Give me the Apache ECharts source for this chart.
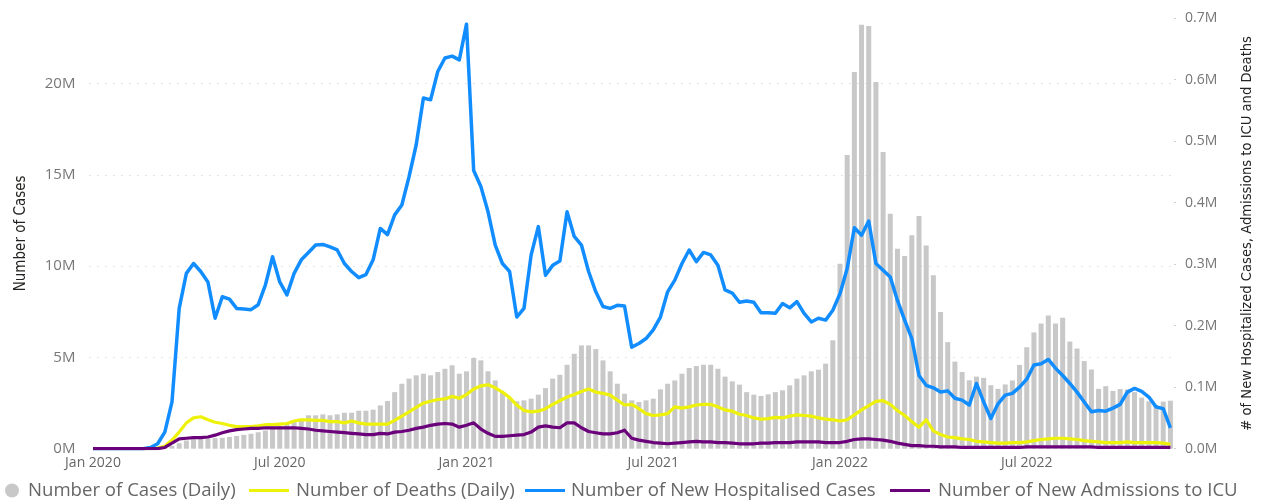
<!DOCTYPE html>
<html><head><meta charset="utf-8">
<script src="https://cdn.jsdelivr.net/npm/echarts@6/dist/echarts.min.js"></script>
<style>html,body{margin:0;padding:0;background:#fff}#c{width:1263px;height:500px}</style>
</head><body><div id="c"></div>
<script>
// weekly categories
const startDate = '2020-01-03';
const weekCount = 151;
const tickLabels = ['Jan 2020', 'Jul 2020', 'Jan 2021', 'Jul 2021', 'Jan 2022', 'Jul 2022'];
const seriesNames = ['Number of Cases (Daily)', 'Number of Deaths (Daily)', 'Number of New Hospitalised Cases', 'Number of New Admissions to ICU'];

// values in millions
const casesM = [
0,0,0,0.01,0.02,0.03,0.03,0.01,0.01,0.03,
0.06,0.15,0.3,0.45,0.52,0.55,0.56,0.58,0.6,0.64,
0.7,0.76,0.82,0.9,1.0,1.12,1.25,1.4,1.55,1.64,
1.83,1.83,1.88,1.83,1.88,1.97,1.97,2.08,2.08,2.14,
2.37,2.61,3.1,3.56,3.84,4.02,4.11,4.02,4.2,4.38,
4.57,4.11,4.24,4.97,4.84,4.24,3.74,3.1,2.74,2.6,
2.65,2.74,2.96,3.32,3.84,4.05,4.6,5.2,5.66,5.66,
5.46,4.84,4.24,3.56,3.01,2.65,2.56,2.65,2.74,3.25,
3.56,3.74,4.11,4.42,4.53,4.6,4.6,4.38,3.95,3.69,
3.51,3.1,2.96,2.89,2.98,3.1,3.2,3.47,3.84,4.02,
4.24,4.33,4.66,5.94,10.14,16.1,20.64,23.23,23.16,20.1,
16.26,12.88,10.96,10.56,11.69,12.75,11.14,9.5,7.49,5.84,
4.77,4.2,3.75,3.95,3.88,3.48,3.28,3.52,3.74,4.59,
5.56,6.37,6.86,7.3,6.86,7.18,5.87,5.49,4.8,4.34,
3.28,3.43,3.17,3.27,3.25,3.1,2.8,2.6,2.4,2.58,2.63];
const deathsM = [
0,0,0,0,0,0,0,0,0,0.001,
0.004,0.014,0.027,0.042,0.05,0.052,0.047,0.043,0.041,0.038,
0.036,0.036,0.036,0.037,0.039,0.039,0.04,0.041,0.045,0.047,
0.047,0.046,0.046,0.044,0.044,0.042,0.045,0.042,0.04,0.04,
0.04,0.04,0.046,0.053,0.06,0.067,0.074,0.077,0.08,0.081,
0.085,0.082,0.088,0.097,0.102,0.104,0.099,0.092,0.083,0.071,
0.062,0.06,0.061,0.065,0.072,0.078,0.084,0.088,0.093,0.097,
0.092,0.09,0.087,0.079,0.071,0.072,0.065,0.057,0.054,0.055,
0.057,0.068,0.066,0.068,0.071,0.072,0.072,0.068,0.063,0.061,
0.056,0.054,0.05,0.048,0.049,0.051,0.05,0.053,0.055,0.054,
0.053,0.05,0.048,0.047,0.045,0.047,0.055,0.063,0.07,0.077,
0.078,0.072,0.062,0.054,0.044,0.035,0.047,0.029,0.023,0.019,
0.018,0.016,0.015,0.012,0.011,0.01,0.009,0.009,0.01,0.01,
0.011,0.013,0.015,0.016,0.017,0.017,0.016,0.015,0.013,0.012,
0.011,0.01,0.01,0.01,0.011,0.01,0.01,0.01,0.01,0.009,0.007];
const hospM = [
0,0,0,0,0,0,0,0,0.002,0.008,
0.027,0.076,0.228,0.285,0.301,0.288,0.271,0.212,0.247,0.243,
0.228,0.227,0.226,0.234,0.266,0.312,0.271,0.25,0.285,0.307,
0.319,0.331,0.332,0.328,0.323,0.301,0.288,0.278,0.283,0.307,
0.358,0.348,0.38,0.396,0.442,0.494,0.57,0.567,0.613,0.635,
0.638,0.632,0.69,0.452,0.426,0.385,0.331,0.301,0.288,0.214,
0.228,0.315,0.361,0.282,0.298,0.305,0.385,0.345,0.331,0.288,
0.255,0.231,0.228,0.233,0.232,0.165,0.171,0.179,0.193,0.214,
0.255,0.274,0.301,0.323,0.304,0.319,0.315,0.298,0.258,0.253,
0.238,0.24,0.238,0.221,0.221,0.22,0.236,0.229,0.239,0.22,
0.206,0.212,0.209,0.225,0.252,0.293,0.359,0.347,0.37,0.301,
0.29,0.279,0.241,0.209,0.179,0.119,0.103,0.099,0.092,0.094,
0.082,0.079,0.071,0.106,0.076,0.049,0.073,0.087,0.09,0.1,
0.113,0.136,0.138,0.145,0.131,0.119,0.106,0.092,0.076,0.06,
0.062,0.061,0.066,0.072,0.092,0.098,0.093,0.084,0.068,0.065,0.034];
const icuM = [
0,0,0,0,0,0,0,0,0,0,
0.002,0.009,0.016,0.017,0.018,0.018,0.019,0.022,0.026,0.029,
0.031,0.032,0.033,0.033,0.034,0.034,0.034,0.034,0.034,0.033,
0.032,0.03,0.029,0.028,0.027,0.026,0.025,0.024,0.023,0.023,
0.025,0.024,0.027,0.028,0.03,0.033,0.035,0.038,0.04,0.041,
0.04,0.035,0.038,0.042,0.032,0.025,0.02,0.02,0.021,0.022,
0.023,0.027,0.035,0.037,0.035,0.034,0.042,0.042,0.034,0.028,
0.026,0.024,0.024,0.026,0.03,0.017,0.014,0.012,0.01,0.009,
0.008,0.009,0.01,0.011,0.012,0.011,0.011,0.01,0.01,0.009,
0.008,0.008,0.008,0.009,0.009,0.01,0.01,0.01,0.011,0.011,
0.011,0.011,0.01,0.01,0.01,0.012,0.015,0.016,0.016,0.015,
0.014,0.012,0.009,0.007,0.005,0.005,0.004,0.004,0.003,0.003,
0.003,0.002,0.002,0.002,0.002,0.002,0.002,0.002,0.002,0.002,
0.003,0.003,0.003,0.003,0.003,0.003,0.003,0.003,0.003,0.003,
0.002,0.002,0.002,0.002,0.002,0.002,0.002,0.002,0.002,0.002,0.002];

// build categories
const dates = [];
const d0 = Date.parse(startDate + 'T00:00:00Z');
for (let i = 0; i < weekCount; i++) dates.push(new Date(d0 + i * 7 * 864e5).toISOString().slice(0, 10));
const MONTHS = ['Jan','Feb','Mar','Apr','May','Jun','Jul','Aug','Sep','Oct','Nov','Dec'];
const labelAt = {};
tickLabels.forEach(t => {
  const [m, y] = t.split(' ');
  const target = Date.UTC(+y, MONTHS.indexOf(m), 1);
  let best = 0, bd = Infinity;
  dates.forEach((ds, i) => { const dd = Math.abs(Date.parse(ds + 'T00:00:00Z') - target); if (dd < bd) { bd = dd; best = i; } });
  labelAt[best] = t;
});

const FONT = "'Segoe UI','Open Sans','Noto Sans',sans-serif";
const NARROW = "'Liberation Sans Narrow','DejaVu Sans Condensed','Roboto Condensed',Roboto,sans-serif";
const GRID = '#cfcfcf';
const LEG_TEXT = {fontFamily: FONT, fontSize: 18.6, color: '#666666'};
function legendItem(name, left, icon, w, h, pad) {
  return {left: left, top: 481, padding: 0, width: 400, data: [name], icon: icon, itemWidth: w, itemHeight: h,
    textStyle: Object.assign({}, LEG_TEXT, {padding: [0, 0, 0, pad]})};
}
const chart = echarts.init(document.getElementById('c'), null, {renderer: 'canvas'});
chart.setOption({
  animation: false,
  backgroundColor: '#ffffff',
  grid: {left: 89.4, right: 88, top: 18, bottom: 51.3, containLabel: false},
  legend: [
    legendItem(seriesNames[0], 5, 'circle', 14, 14, 4),
    legendItem(seriesNames[1], 249, 'rect', 40, 3, 2),
    legendItem(seriesNames[2], 525, 'rect', 40, 3, 1),
    legendItem(seriesNames[3], 890, 'rect', 40, 3, 3)
  ],
  xAxis: {
    type: 'category', data: dates, boundaryGap: true,
    axisLine: {show: false}, axisTick: {show: false}, splitLine: {show: false},
    axisLabel: {interval: (i) => labelAt[i] !== undefined, formatter: (v, i) => labelAt[i] || '',
      fontFamily: FONT, fontSize: 14, color: '#666666', margin: 7, hideOverlap: false}
  },
  yAxis: [
    {type: 'value', min: 0, max: 23.6, interval: 5, position: 'left',
     name: 'Number of Cases', nameLocation: 'middle', nameRotate: 90, nameGap: 61,
     nameTextStyle: {fontFamily: NARROW, fontSize: 15, color: '#252423'},
     axisLine: {show: false}, axisTick: {show: false},
     axisLabel: {formatter: v => v + 'M', showMaxLabel: false, fontFamily: FONT, fontSize: 15, color: '#777777', margin: 14},
     splitLine: {show: true, lineStyle: {type: [1, 7], width: 1, color: ['rgba(0,0,0,0)', GRID, GRID, GRID, GRID, 'rgba(0,0,0,0)']}}},
    {type: 'value', min: 0, max: 0.7, interval: 0.1, position: 'right',
     name: '# of New Hospitalized Cases, Admissions to ICU and Deaths', nameLocation: 'middle', nameRotate: 90, nameGap: 66,
     nameTextStyle: {fontFamily: NARROW, fontSize: 14.6, color: '#252423'},
     axisLine: {show: false}, axisTick: {show: true, length: 2, lineStyle: {color: '#d0d0d0'}},
     axisLabel: {formatter: v => v.toFixed(1) + 'M', fontFamily: FONT, fontSize: 14, color: '#777777', margin: 11},
     splitLine: {show: false}}
  ],
  series: [
    {name: seriesNames[0], type: 'bar', yAxisIndex: 0, data: casesM, barWidth: 5,
     itemStyle: {color: '#c8c8c8'}, z: 1},
    {name: seriesNames[1], type: 'line', yAxisIndex: 1, data: deathsM, symbol: 'none', showSymbol: false,
     lineStyle: {color: '#eef20a', width: 3.2, join: 'round'}, itemStyle: {color: '#eef20a'}, z: 3},
    {name: seriesNames[2], type: 'line', yAxisIndex: 1, data: hospM, symbol: 'none', showSymbol: false,
     lineStyle: {color: '#118dff', width: 3.5, join: 'round'}, itemStyle: {color: '#118dff'}, z: 4},
    {name: seriesNames[3], type: 'line', yAxisIndex: 1, data: icuM, symbol: 'none', showSymbol: false,
     lineStyle: {color: '#6b007b', width: 3.2, join: 'round'}, itemStyle: {color: '#6b007b'}, z: 5}
  ]
});
</script>
</body></html>
